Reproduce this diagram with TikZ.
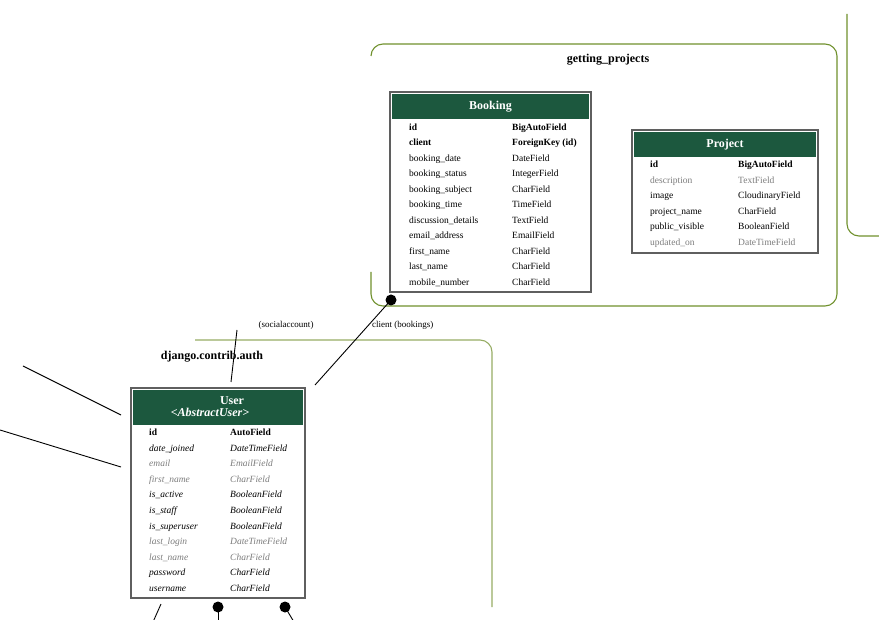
\documentclass[tikz,border=0pt]{standalone}
\usepackage{fontspec}
\setmainfont{Liberation Serif}
\definecolor{hgreen}{RGB}{28,88,62}
\definecolor{tgray}{RGB}{95,95,95}
\definecolor{olive}{RGB}{112,145,45}
\definecolor{oliveL}{RGB}{150,172,100}
\definecolor{ftgray}{RGB}{125,125,125}
\tikzset{
  tbox/.style={draw=tgray, line width=1.6pt, fill=white, inner sep=0pt},
  hdr/.style={fill=hgreen, inner sep=0pt, text=white, font=\fontsize{12}{14}\selectfont\bfseries},
  fld/.style={anchor=base west, inner sep=0pt, font=\fontsize{9.5}{11}\selectfont},
  bf/.style={font=\fontsize{9.5}{11}\selectfont\bfseries},
  nm/.style={},
  gr/.style={text=ftgray},
  it/.style={font=\fontsize{9.5}{11}\selectfont\itshape},
  git/.style={font=\fontsize{9.5}{11}\selectfont\itshape, text=ftgray},
  clA/.style={draw=olive, line width=1.1pt, rounded corners=12pt},
  clB/.style={draw=oliveL, line width=1.1pt, rounded corners=12pt},
  cllabel/.style={font=\fontsize{12}{14}\selectfont\bfseries, inner sep=0pt, anchor=base},
  elabel/.style={font=\fontsize{9}{11}\selectfont, inner sep=0pt, anchor=base},
  dotnode/.style={circle, fill=black, minimum size=11pt, inner sep=0pt},
  conn/.style={draw=black, line width=0.9pt}
}
\begin{document}
\begin{tikzpicture}[x=1pt,y=-1pt]
\useasboundingbox (0,0) rectangle (879,620);

% clusters
\draw[clA] (371,56) -- (371,44) -- (837,44) -- (837,306) -- (371,306) -- (371,272);
\draw[clA] (847,14) -- (847,236) -- (890,236);
\draw[clB] (195,340) -- (492,340) -- (492,607);
\node[cllabel] (gplabel) at (608,63) {getting\_projects};
\node[cllabel] (dalabel) at (212,359.5) {django.contrib.auth};

% Booking table
\node[tbox, minimum width=201pt, minimum height=200pt] (booking) at (490.5,192) {};
\node[hdr, minimum width=197pt, minimum height=25pt] (bookingH) at (490.5,106.5) {Booking};
\foreach \i/\a/\b/\s in {0/id/BigAutoField/bf, 1/client/ForeignKey (id)/bf,
  2/booking\_date/DateField/nm, 3/booking\_status/IntegerField/nm,
  4/booking\_subject/CharField/nm, 5/booking\_time/TimeField/nm,
  6/discussion\_details/TextField/nm, 7/email\_address/EmailField/nm,
  8/first\_name/CharField/nm, 9/last\_name/CharField/nm, 10/mobile\_number/CharField/nm}{
  \node[fld,\s] (bl\i) at (409,130.5+\i*15.5) {\a};
  \node[fld,\s] (br\i) at (512,130.5+\i*15.5) {\b};
}

% Project table
\node[tbox, minimum width=186pt, minimum height=123pt] (project) at (725,191.5) {};
\node[hdr, minimum width=182pt, minimum height=25pt] (projectH) at (725,144.5) {Project};
\foreach \i/\a/\b/\s in {0/id/BigAutoField/bf, 1/description/TextField/gr,
  2/image/CloudinaryField/nm, 3/project\_name/CharField/nm,
  4/public\_visible/BooleanField/nm, 5/updated\_on/DateTimeField/gr}{
  \node[fld,\s] (pl\i) at (650,167.5+\i*15.6) {\a};
  \node[fld,\s] (pr\i) at (738,167.5+\i*15.6) {\b};
}

% User table
\node[tbox, minimum width=174pt, minimum height=210pt] (user) at (218,493) {};
\node[hdr, minimum width=170pt, minimum height=35pt] (userH) at (218,407.5) {};
\node[text=white, font=\fontsize{12}{14}\selectfont\bfseries, inner sep=0pt, anchor=base] (utitle) at (232,405) {User};
\node[text=white, font=\fontsize{12}{14}\selectfont\bfseries\itshape, inner sep=0pt, anchor=base] (usub) at (210,417) {<AbstractUser>};
\foreach \i/\a/\b/\s in {0/id/AutoField/bf, 1/date\_joined/DateTimeField/it,
  2/email/EmailField/git, 3/first\_name/CharField/git,
  4/is\_active/BooleanField/it, 5/is\_staff/BooleanField/it,
  6/is\_superuser/BooleanField/it, 7/last\_login/DateTimeField/git,
  8/last\_name/CharField/git, 9/password/CharField/it, 10/username/CharField/it}{
  \node[fld,\s] (ul\i) at (149,435.5+\i*15.6) {\a};
  \node[fld,\s] (ur\i) at (230,435.5+\i*15.6) {\b};
}

% connectors
\node[dotnode] (dclient) at (391,300) {};
\coordinate (eclient) at (315,385);
\draw[conn] (dclient.center) -- (eclient);
\node[elabel, anchor=base west] (lclient) at (372,328) {client (bookings)};

\coordinate (sa1) at (237,330);
\coordinate (sa2) at (231,382);
\draw[conn] (sa1) -- (sa2);
\node[elabel] (lsocial) at (286,328) {(socialaccount)};

\coordinate (l1a) at (23,366);
\coordinate (l1b) at (121,415);
\draw[conn] (l1a) -- (l1b);
\coordinate (l2a) at (0,430);
\coordinate (l2b) at (121,467);
\draw[conn] (l2a) -- (l2b);

\coordinate (b1a) at (161,604);
\coordinate (b1b) at (153,622);
\draw[conn] (b1a) -- (b1b);
\node[dotnode] (db2) at (218,607) {};
\coordinate (b2b) at (218,622);
\draw[conn] (db2.center) -- (b2b);
\node[dotnode] (db3) at (285,607) {};
\coordinate (b3b) at (294,622);
\draw[conn] (db3.center) -- (b3b);
\end{tikzpicture}
\end{document}
